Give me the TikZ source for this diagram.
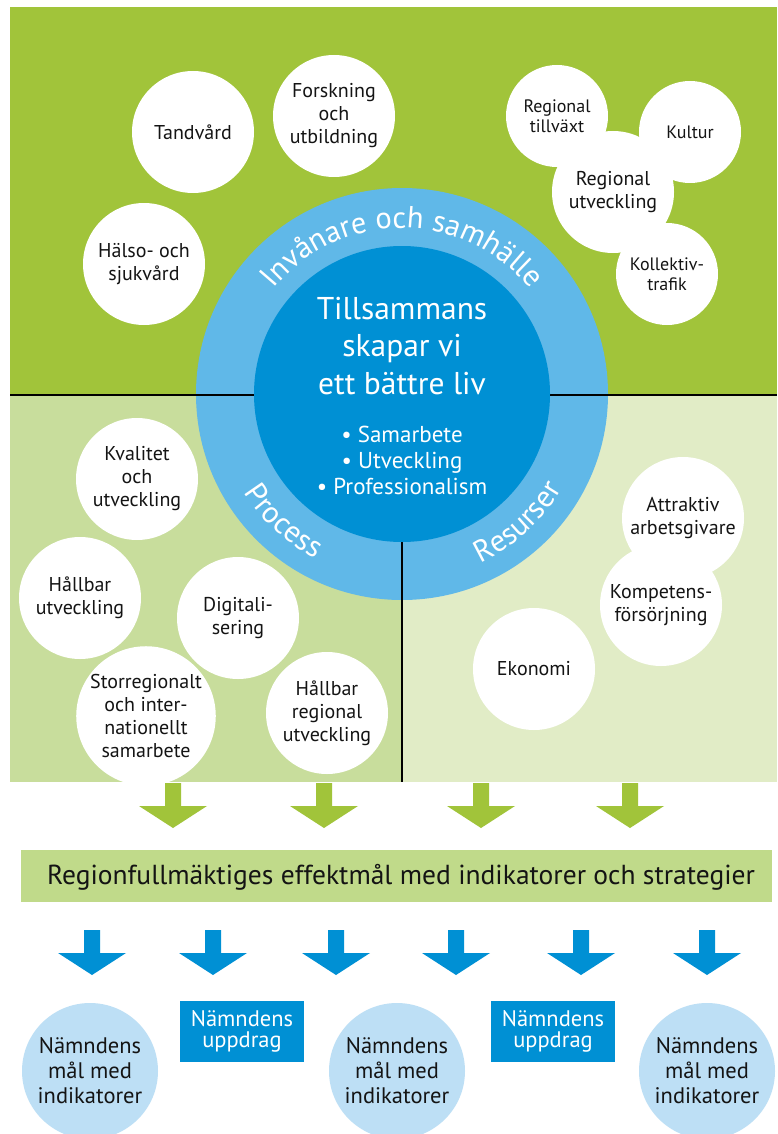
\documentclass[tikz,border=0pt]{standalone}
\usepackage{fontspec}
\setmainfont{PT Sans}
\usetikzlibrary{decorations.text}
\definecolor{topgreen}{RGB}{161,196,58}
\definecolor{leftgreen}{RGB}{200,221,156}
\definecolor{rightgreen}{RGB}{225,236,198}
\definecolor{bandgreen}{RGB}{192,218,138}
\definecolor{ringblue}{RGB}{96,184,232}
\definecolor{coreblue}{RGB}{0,144,212}
\definecolor{paleblue}{RGB}{189,223,245}
\definecolor{ink}{RGB}{20,20,20}
\tikzset{
  bubble/.style={circle,fill=white,inner sep=0pt,minimum size=122pt,align=center,text=ink,font=\fontsize{20}{23}\selectfont},
  smallbubble/.style={bubble,minimum size=102pt,font=\fontsize{18}{20.5}\selectfont},
  goalbubble/.style={circle,fill=paleblue,inner sep=0pt,minimum size=136pt,align=center,text=ink,font=\fontsize{22.5}{25}\selectfont},
  taskbox/.style={rectangle,fill=coreblue,inner sep=0pt,minimum width=124pt,minimum height=61pt,align=center,text=white,font=\fontsize{22.5}{21}\selectfont},
  divider/.style={line width=2pt,black},
  blockarrow/.pic={\fill[pic actions] (-8,0) -- (8,0) -- (8,-23) -- (34,-23) -- (0,-45) -- (-34,-23) -- (-8,-23) -- cycle;},
  ringtext/.style={decorate,decoration={text along path,text align=center,text color=white}}
}
\begin{document}
\begin{tikzpicture}[x=1pt,y=1pt]
\useasboundingbox (0,0) rectangle (777,-1134);
\fill[white] (0,0) rectangle (777,-1134);
% panels
\fill[topgreen] (10,-7) rectangle (777,-394);
\fill[leftgreen] (10,-396) rectangle (402,-782);
\fill[rightgreen] (402,-396) rectangle (777,-782);
% top-left bubbles
\node[bubble] (tand) at (193,-132) {Tandvård};
\node[bubble] (forsk) at (334,-116) {Forskning\\och\\utbildning};
\node[bubble] (halso) at (144,-264) {Hälso- och\\sjukvård};
% top-right cluster
\node[smallbubble] (tillvaxt) at (557,-116) {Regional\\tillväxt};
\node[smallbubble] (kultur) at (690,-132) {Kultur};
\node[smallbubble] (kollektiv) at (667,-274) {Kollektiv-\\trafik};
\node[bubble] (regutv) at (613,-192) {Regional\\utveckling};
% lower-left bubbles
\node[bubble] (kval) at (137,-479) {Kvalitet\\och\\utveckling};
\node[bubble] (hallbar) at (80,-598) {Hållbar\\utveckling};
\node[bubble] (digi) at (238,-618) {Digitali-\\sering};
\node[bubble] (storreg) at (146,-716) {Storregionalt\\och inter-\\nationellt\\samarbete};
\node[bubble] (hallreg) at (327,-713) {Hållbar\\regional\\utveckling};
% lower-right bubbles
\node[bubble] (attr) at (683,-518) {Attraktiv\\arbetsgivare};
\node[bubble] (komp) at (661,-605) {Kompetens-\\försörjning};
\node[bubble] (eko) at (534,-669) {Ekonomi};
% ring
\node[circle,fill=ringblue,inner sep=0pt,minimum size=412pt] (ring) at (402,-394) {};
\draw[divider] (10,-395) -- (777,-395);
\draw[divider] (ring.center) -- (402,-782);
\node[circle,fill=coreblue,inner sep=0pt,minimum size=296pt] (core) at (402,-394) {};
% ring labels
\path[ringtext,decoration={text={|\fontsize{30.5}{30.5}\selectfont|Invånare och samhälle}}]
  ([shift={(402,-394)}]170:166) arc[start angle=170,end angle=10,radius=166];
\path[ringtext,decoration={text={|\fontsize{30.5}{30.5}\selectfont|Process}}]
  ([shift={(402,-394)}]182:186) arc[start angle=182,end angle=272,radius=186];
\path[ringtext,decoration={text={|\fontsize{30.5}{30.5}\selectfont|Resurser}}]
  ([shift={(402,-394)}]267:186) arc[start angle=267,end angle=357,radius=186];
% core text
\node[align=center,text=white,font=\fontsize{31.5}{37.5}\selectfont] (motto) at (402,-346) {Tillsammans\\skapar vi\\ett bättre liv};
\node[align=center,text=white,font=\fontsize{23}{26}\selectfont] (values) at (402,-460) {• Samarbete\\• Utveckling\\• Professionalism};
% green arrows
\pic[fill=topgreen] (ga1) at (173,-783) {blockarrow};
\pic[fill=topgreen] (ga2) at (324,-783) {blockarrow};
\pic[fill=topgreen] (ga3) at (481,-783) {blockarrow};
\pic[fill=topgreen] (ga4) at (630,-783) {blockarrow};
% band
\node[rectangle,fill=bandgreen,inner sep=0pt,minimum width=751pt,minimum height=52pt] (band) at (396.5,-876) {};
\node[text=ink,font=\fontsize{27.5}{27.5}\selectfont,inner sep=0pt] (bandtext) at (401,-877) {Regionfullmäktiges effektmål med indikatorer och strategier};
% blue arrows
\pic[fill=coreblue] (ba1) at (92,-930) {blockarrow};
\pic[fill=coreblue] (ba2) at (213,-930) {blockarrow};
\pic[fill=coreblue] (ba3) at (336,-930) {blockarrow};
\pic[fill=coreblue] (ba4) at (456,-930) {blockarrow};
\pic[fill=coreblue] (ba5) at (581,-930) {blockarrow};
\pic[fill=coreblue] (ba6) at (707,-930) {blockarrow};
% bottom row
\node[goalbubble] (goal1) at (90,-1071) {Nämndens\\mål med\\indikatorer};
\node[taskbox] (task1) at (242,-1031.5) {Nämndens\\uppdrag};
\node[goalbubble] (goal2) at (397,-1071) {Nämndens\\mål med\\indikatorer};
\node[taskbox] (task2) at (553,-1031.5) {Nämndens\\uppdrag};
\node[goalbubble] (goal3) at (707,-1071) {Nämndens\\mål med\\indikatorer};
\end{tikzpicture}
\end{document}
